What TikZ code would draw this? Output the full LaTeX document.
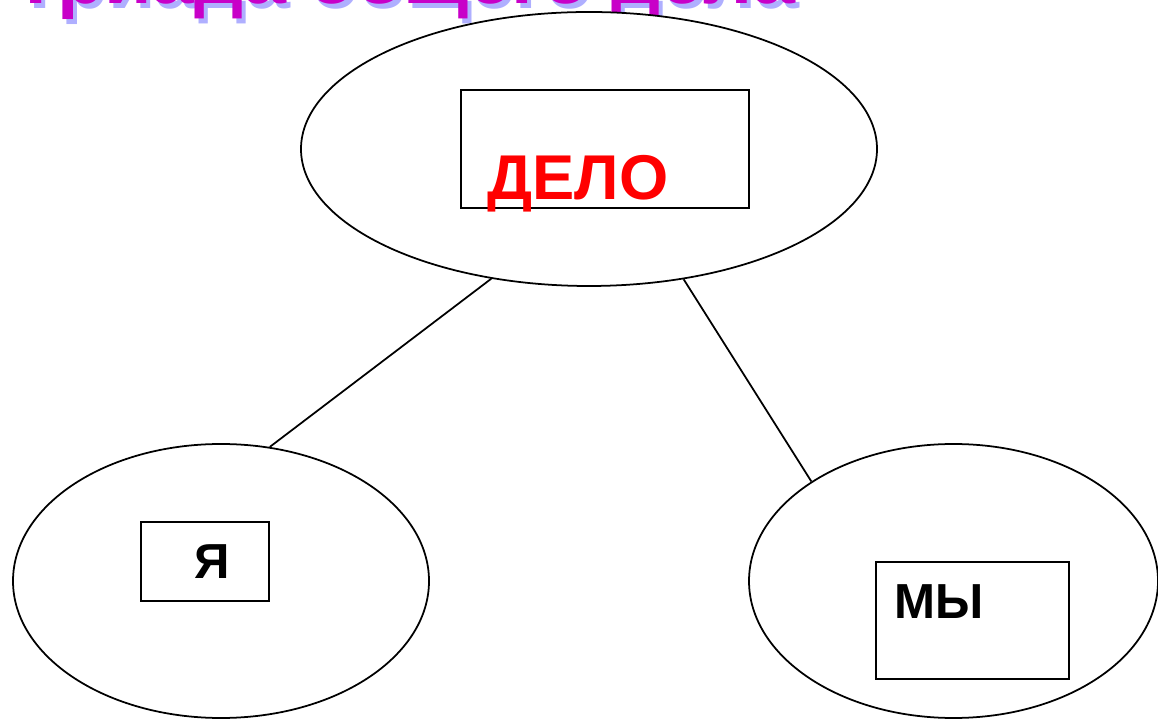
\documentclass[tikz,border=0pt]{standalone}
\usepackage{fontspec}
\setmainfont{Liberation Sans}
\usetikzlibrary{positioning,shapes.geometric}
\definecolor{titlemag}{RGB}{200,0,200}
\definecolor{titleshade}{RGB}{175,175,255}
\tikzset{
  oval/.style={ellipse,draw,fill=white,line width=0.5pt,inner sep=0pt},
  wordbox/.style={rectangle,draw,line width=0.7pt,inner sep=0pt},
  word/.style={inner sep=0pt,anchor=base west,font=\bfseries\fontsize{14pt}{14pt}\selectfont},
  headline/.style={inner sep=0pt,anchor=base west,font=\bfseries\fontsize{22pt}{22pt}\selectfont},
}
\begin{document}
\begin{tikzpicture}[on grid]
 \useasboundingbox (0,0) rectangle (11.58,7.19);
 \begin{scope}
  \clip (0,0) rectangle (11.58,7.19);
  \node [headline,text=titleshade] (shade) at (0.16,7.10) {Триада общего дела};
  \node [headline,text=titlemag] (title) at (0.12,7.15) {Триада общего дела};
 \end{scope}
 \node [oval,minimum width=5.76cm,minimum height=2.74cm] (delo) at (5.89,5.70) {};
 \node [oval,minimum width=4.16cm,minimum height=2.74cm,below left=4.32cm and 3.68cm of delo] (ya) {};
 \node [oval,minimum width=4.09cm,minimum height=2.74cm,below right=4.32cm and 3.645cm of delo] (my) {};
 \node [wordbox,minimum width=2.88cm,minimum height=1.18cm,right=0.16cm of delo] (delobox) {};
 \node [wordbox,minimum width=1.28cm,minimum height=0.79cm,above left=0.195cm and 0.16cm of ya] (yabox) {};
 \node [wordbox,minimum width=1.93cm,minimum height=1.17cm,below right=0.395cm and 0.19cm of my] (mybox) {};
 \node [word,text=red,font=\bfseries\fontsize{18pt}{18pt}\selectfont,above right=0.10cm and 0.27cm of delobox.south west,anchor=base west] (delotext) {ДЕЛО};
 \node [word,above right=0.24cm and 0.54cm of yabox.south west,anchor=base west] (yatext) {Я};
 \node [word,above right=0.62cm and 0.19cm of mybox.south west,anchor=base west] (mytext) {МЫ};
 \draw [line width=0.5pt] (delo.233.4) -- (ya.70.7);
 \draw [line width=0.5pt] (delo.306.6) -- (my.145);
\end{tikzpicture}
\end{document}
